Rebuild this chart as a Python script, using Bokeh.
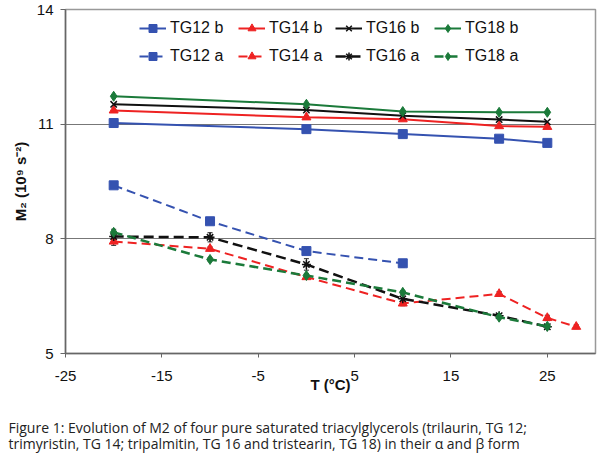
from bokeh.plotting import figure
from bokeh.models import (ColumnDataSource, Whisker, TeeHead, Legend, LegendItem,
                          FixedTicker, Title)
from bokeh.embed import file_html
from bokeh.resources import INLINE

# ---- data ----
T_b = [-20, 0, 10, 20, 25]
tg12_b = [11.03, 10.87, 10.74, 10.62, 10.51]
tg14_b = [11.36, 11.18, 11.13, 10.95, 10.93]
tg16_b = [11.52, 11.37, 11.22, 11.12, 11.06]
tg18_b = [11.73, 11.52, 11.33, 11.31, 11.31]

T_12a = [-20, -10, 0, 10]
tg12_a = [9.40, 8.46, 7.68, 7.36]
err12_a = [0.08, 0.04, 0.06, 0.10]
T_14a = [-20, -10, 0, 10, 20, 25, 28]
tg14_a = [7.93, 7.74, 7.00, 6.31, 6.56, 5.93, 5.70]
err14_a = [0.10, 0.05, 0.05, 0.06, 0.06, 0.07, 0.05]
T_16a = [-20, -10, 0, 10, 20, 25]
tg16_a = [8.06, 8.04, 7.33, 6.43, 5.99, 5.70]
err16_a = [0.05, 0.12, 0.15, 0.10, 0.05, 0.05]
T_18a = [-20, -10, 0, 10, 20, 25]
tg18_a = [8.17, 7.46, 7.04, 6.60, 5.95, 5.71]
err18_a = [0.08, 0.04, 0.05, 0.04, 0.04, 0.05]

x_ticks = [-25, -15, -5, 5, 15, 25]
x_tick_labels = ["-25", "-15", "-5", "5", "15", "25"]
y_ticks = [5, 8, 11, 14]

caption = ("Figure 1: Evolution of M2 of four pure saturated triacylglycerols (trilaurin, TG 12;\n"
           "trimyristin, TG 14; tripalmitin, TG 16 and tristearin, TG 18) in their α and β form")

BLUE = "#3552b0"
RED = "#ee2222"
BLACK = "#111111"
GREEN = "#1b7a3a"
FONT = "Liberation Sans"

p = figure(frame_width=530, frame_height=344, x_range=(-25, 30), y_range=(5, 14),
           output_backend="svg", toolbar_location=None,
           min_border_left=65, min_border_right=5, min_border_top=9,
           min_border_bottom=105)
p.background_fill_color = "white"
p.border_fill_color = "white"
p.outline_line_color = "#999999"
p.outline_line_width = 1.5

p.xgrid.grid_line_color = None
p.ygrid.grid_line_color = "#777777"
p.ygrid.grid_line_width = 1

for ax in (p.xaxis, p.yaxis):
    ax.major_label_text_font = FONT
    ax.major_label_text_font_size = "15px"
    ax.major_label_text_color = "#111111"
    ax.axis_label_text_font = FONT
    ax.axis_label_text_font_style = "bold"
    ax.axis_label_text_font_size = "15px"
    ax.axis_label_text_color = "#111111"
    ax.minor_tick_line_color = None
    ax.major_tick_in = 0
    ax.axis_line_color = "#666666"
    ax.major_tick_line_color = "#666666"
    ax.axis_line_width = 1.5
p.xaxis.major_tick_out = 4
p.yaxis.major_tick_out = 5
p.xaxis.ticker = FixedTicker(ticks=x_ticks)
p.yaxis.ticker = FixedTicker(ticks=y_ticks)
p.xaxis.major_label_overrides = dict(zip(x_ticks, x_tick_labels))
p.xaxis.axis_label = "T (°C)"
p.yaxis.axis_label = "M₂ (10⁹ s⁻²)"
p.xaxis.major_label_standoff = 13
p.xaxis.axis_label_standoff = -8
p.yaxis.major_label_standoff = 7
p.yaxis.axis_label_standoff = 5

def whiskers(x, y, e):
    src = ColumnDataSource(dict(x=x, lo=[a - b for a, b in zip(y, e)],
                                hi=[a + b for a, b in zip(y, e)]))
    w = Whisker(source=src, base="x", lower="lo", upper="hi",
                line_color="#222222", line_width=1,
                upper_head=TeeHead(size=5, line_color="#222222"),
                lower_head=TeeHead(size=5, line_color="#222222"))
    p.add_layout(w)

series = []
# beta form (solid)
for (y, color, marker, size, name) in [
        (tg12_b, BLUE, "square", 9, "TG12 b"),
        (tg14_b, RED, "triangle", 9, "TG14 b"),
        (tg16_b, BLACK, "x", 9, "TG16 b"),
        (tg18_b, GREEN, "diamond", 10, "TG18 b")]:
    l = p.line(T_b, y, line_color=color, line_width=2)
    if marker == "x":
        m = p.scatter(T_b, y, marker=marker, size=size, line_color=color, line_width=1.5)
    else:
        m = p.scatter(T_b, y, marker=marker, size=size, fill_color=color, line_color=color)
    series.append((name, [l, m]))

# alpha form (dashed)
for (x, y, e, color, marker, size, dash, lw, name) in [
        (T_12a, tg12_a, err12_a, BLUE, "square", 9, "9 5", 2, "TG12 a"),
        (T_14a, tg14_a, err14_a, RED, "triangle", 9, "9 5", 2, "TG14 a"),
        (T_16a, tg16_a, err16_a, BLACK, "asterisk", 9, "10 5", 2.5, "TG16 a"),
        (T_18a, tg18_a, err18_a, GREEN, "diamond", 10, "9 5", 2.5, "TG18 a")]:
    l = p.line(x, y, line_color=color, line_width=lw, line_dash=dash)
    whiskers(x, y, e)
    if marker == "asterisk":
        m = p.scatter(x, y, marker=marker, size=size, line_color=color, line_width=1.5)
    else:
        m = p.scatter(x, y, marker=marker, size=size, fill_color=color, line_color=color)
    series.append((name, [l, m]))

# legends: 2 rows x 4 columns
col_x = [74, 173, 270, 369]
row_y = [315, 287]
for i, (name, rends) in enumerate(series):
    row = i // 4
    col = i % 4
    lg = Legend(items=[LegendItem(label=name, renderers=rends)],
                location=(col_x[col], row_y[row]),
                border_line_color=None, background_fill_alpha=0,
                padding=0, margin=0, glyph_width=27, glyph_height=20,
                label_standoff=4, label_text_font=FONT,
                label_text_font_size="16px", label_text_color="#111111")
    p.add_layout(lg, "center")

cap = Title(text=caption, align="left", offset=-57, text_font="Open Sans",
            text_font_size="14px", text_font_style="normal", text_color="#222222",
            text_line_height=0.85, standoff=42)
p.add_layout(cap, "below")

open("out.html", "w").write(file_html(p, INLINE))
